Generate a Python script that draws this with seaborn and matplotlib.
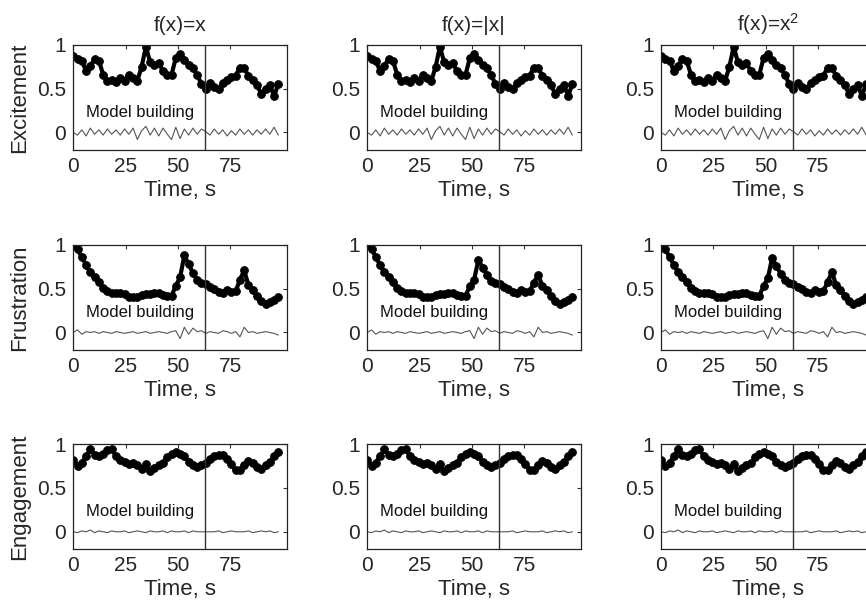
import numpy as np
import matplotlib
matplotlib.use('Agg')
import matplotlib.pyplot as plt
import seaborn as sns

sns.set_theme(style='white')
plt.rcParams['font.family'] = ['Liberation Sans', 'DejaVu Sans']
plt.rcParams['mathtext.default'] = 'regular'

# time grid of the recorded signals (s)
time_s = np.linspace(0, 98, 49)

excitement = [0.87, 0.84, 0.82, 0.70, 0.76, 0.84, 0.82, 0.66, 0.59, 0.60, 0.58, 0.62, 0.59, 0.66,
              0.62, 0.59, 0.75, 0.98, 0.80, 0.77, 0.79, 0.70, 0.66, 0.66, 0.85, 0.90, 0.83, 0.77,
              0.73, 0.66, 0.55, 0.50, 0.57, 0.52, 0.50, 0.56, 0.60, 0.63, 0.65, 0.74, 0.73, 0.65,
              0.60, 0.54, 0.44, 0.50, 0.54, 0.42, 0.55]
excitement_err = [0.00, -0.03, 0.03, -0.04, 0.05, -0.02, 0.03, -0.03, 0.04, -0.02, 0.03, -0.03, 0.04,
                  -0.02, 0.05, -0.08, 0.02, 0.07, -0.03, 0.05, -0.04, 0.05, -0.02, -0.08, 0.06, -0.07,
                  0.04, -0.03, 0.05, -0.02, 0.04, 0.01, -0.03, 0.04, -0.02, 0.03, -0.04, 0.02, -0.03,
                  0.04, -0.02, 0.03, -0.03, 0.03, -0.02, 0.04, -0.02, 0.06, -0.03]

frustration_x = [1.00, 0.95, 0.86, 0.77, 0.69, 0.63, 0.58, 0.51, 0.47, 0.45, 0.45, 0.45, 0.44, 0.41,
                 0.40, 0.41, 0.43, 0.44, 0.44, 0.45, 0.45, 0.43, 0.42, 0.42, 0.53, 0.63, 0.88, 0.78,
                 0.68, 0.60, 0.57, 0.55, 0.52, 0.50, 0.46, 0.45, 0.48, 0.46, 0.47, 0.60, 0.71, 0.54,
                 0.48, 0.42, 0.36, 0.33, 0.35, 0.37, 0.41]
frustration_abs = [1.00, 0.95, 0.86, 0.77, 0.69, 0.63, 0.58, 0.51, 0.47, 0.45, 0.45, 0.45, 0.44, 0.41,
                   0.40, 0.41, 0.43, 0.44, 0.44, 0.45, 0.45, 0.43, 0.42, 0.42, 0.53, 0.60, 0.83, 0.74,
                   0.66, 0.59, 0.56, 0.55, 0.52, 0.50, 0.46, 0.45, 0.48, 0.46, 0.47, 0.57, 0.66, 0.53,
                   0.48, 0.42, 0.36, 0.33, 0.35, 0.37, 0.41]
frustration_sq = [1.00, 0.95, 0.86, 0.77, 0.69, 0.63, 0.58, 0.51, 0.47, 0.45, 0.45, 0.45, 0.44, 0.41,
                  0.40, 0.41, 0.43, 0.44, 0.44, 0.45, 0.45, 0.43, 0.42, 0.42, 0.53, 0.62, 0.85, 0.76,
                  0.67, 0.60, 0.57, 0.55, 0.52, 0.50, 0.46, 0.45, 0.48, 0.46, 0.47, 0.58, 0.69, 0.54,
                  0.48, 0.42, 0.36, 0.33, 0.35, 0.37, 0.41]
frustration_err = [0.00, 0.03, -0.02, 0.01, 0.00, 0.01, -0.01, 0.01, 0.00, -0.01, 0.01, 0.00, -0.01,
                   0.00, 0.01, -0.01, 0.00, 0.01, -0.01, 0.00, 0.01, 0.00, -0.01, 0.01, 0.02, -0.07,
                   0.06, -0.02, 0.05, 0.01, 0.02, -0.01, 0.01, 0.00, -0.01, 0.02, 0.01, -0.01, 0.01,
                   -0.05, 0.06, 0.00, 0.01, -0.01, 0.00, 0.01, 0.00, -0.01, -0.03]

engagement = [0.82, 0.75, 0.79, 0.86, 0.94, 0.88, 0.86, 0.89, 0.93, 0.94, 0.86, 0.82, 0.80, 0.77,
              0.79, 0.76, 0.72, 0.77, 0.69, 0.73, 0.76, 0.79, 0.85, 0.89, 0.91, 0.89, 0.86, 0.80,
              0.76, 0.74, 0.76, 0.78, 0.83, 0.86, 0.88, 0.88, 0.83, 0.77, 0.70, 0.71, 0.76, 0.81,
              0.79, 0.74, 0.72, 0.76, 0.80, 0.86, 0.91]
engagement_err = [0.00, -0.01, 0.01, 0.00, 0.02, -0.01, 0.01, 0.00, -0.01, 0.01, 0.00, 0.00, 0.01,
                  -0.01, 0.00, 0.01, 0.00, -0.01, 0.01, 0.00, 0.00, 0.01, -0.01, 0.01, 0.00, 0.00,
                  0.01, -0.01, 0.01, 0.00, 0.00, 0.00, 0.00, 0.00, 0.01, -0.01, 0.00, 0.01, 0.00,
                  0.00, 0.00, 0.01, -0.01, 0.00, 0.01, 0.00, 0.01, -0.01, 0.00]

col_titles = ['f(x)=x', 'f(x)=|x|', 'f(x)=x$^2$']
row_labels = ['Excitement', 'Frustration', 'Engagement']
split_time = 63

signals = [[excitement, excitement, excitement],
           [frustration_x, frustration_abs, frustration_sq],
           [engagement, engagement, engagement]]
errors = [excitement_err, frustration_err, engagement_err]

fig = plt.figure(figsize=(8.66, 6.01), dpi=100)
lefts = [0.0846, 0.4241, 0.7633]
bottoms = [0.7504, 0.4176, 0.086]

for r in range(3):
    for c in range(3):
        ax = fig.add_axes([lefts[c], bottoms[r], 0.2465, 0.175])
        sns.lineplot(x=time_s, y=errors[r], ax=ax, color='#555555', linewidth=0.8)
        sns.lineplot(x=time_s, y=signals[r][c], ax=ax, color='black', linewidth=3,
                     marker='o', markersize=5.5, markeredgecolor='black')
        ax.axvline(split_time, color='#333333', linewidth=1)
        ax.text(6, 0.18, 'Model building', fontsize=12, color='#111111')
        ax.set_xlim(0, 102)
        ax.set_ylim(-0.2, 1)
        ax.set_xticks([0, 25, 50, 75])
        ax.set_yticks([0, 0.5, 1])
        ax.set_yticklabels(['0', '0.5', '1'])
        ax.tick_params(direction='in', top=True, right=True, length=3, width=0.8,
                       labelsize=15, pad=5, color='#333333')
        for sp in ax.spines.values():
            sp.set_color('#222222')
            sp.set_linewidth(0.9)
        ax.set_xlabel('Time, s', fontsize=16, labelpad=3)
        if c == 0:
            ax.set_ylabel(row_labels[r], fontsize=16, labelpad=5)
        else:
            ax.set_ylabel('')
        if r == 0:
            ax.set_title(col_titles[c], fontsize=15, pad=10)

plt.savefig('out.png', dpi=100)
